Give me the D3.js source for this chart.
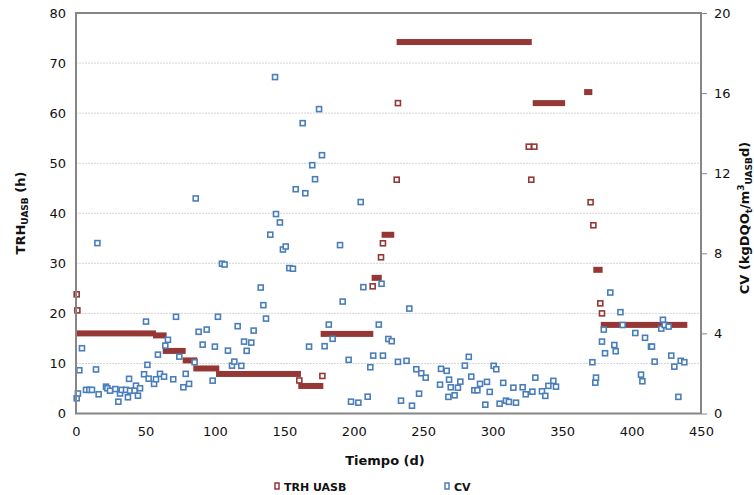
<!DOCTYPE html>
<html>
<head>
<meta charset="utf-8">
<script src="https://cdn.jsdelivr.net/npm/d3@7"></script>
<style>
  body { margin: 0; background: #fff; }
  text { font-family: "DejaVu Sans", Verdana, sans-serif; }
</style>
</head>
<body>
<div id="chart"></div>
<script>
const width = 754;
const height = 495;

// CV (kgDQOt/m3 UASB d) - day / value
const cvDays = [0.5, 1.4, 2.4, 4.3, 7.2, 9.6, 11.5, 14.4, 15.4, 16.3, 21.6, 22.6, 24.5, 28.3, 30.5, 31.7, 32.9, 36, 37.4, 38.2,
  38.9, 42.2, 43.2, 44.6, 46.1, 49, 50.4, 51.4, 52.3, 56.2, 57.6, 59, 60.5, 63.4, 64.3, 66.2, 70, 72, 74.4, 77.3,
  79, 81.4, 85.4, 86.2, 88.3, 91.2, 94.1, 98.4, 100, 102.2, 105.1, 107, 109.4, 112.3, 114, 116.4, 119, 121, 122.9, 126.2,
  127.9, 133, 134.9, 136.8, 139.9, 143.3, 144, 146.8, 149, 151, 153.6, 156.2, 158.2, 163.2, 165.1, 167.8, 170.1, 172.1, 175, 177.1,
  179, 182, 184.8, 190.1, 192, 196.3, 198, 203.3, 205, 206.9, 210, 211.9, 214, 218, 220, 221, 224.9, 227.3, 231.8, 234,
  238, 240, 241.9, 245, 247, 248.6, 251.8, 262.1, 262.8, 266.9, 268.1, 268.6, 269.8, 272.6, 275, 276.7, 280, 282.8, 284.6, 286.8,
  289, 290.9, 294.7, 295.9, 297.9, 300.7, 302.6, 305, 307.6, 309.6, 311.7, 314.9, 316.8, 321.6, 323.8, 328.6, 330.7, 335.5, 337.9, 340.1,
  343.7, 345.6, 371.8, 373.9, 374.4, 378.7, 380, 380.9, 384.7, 387.6, 388.6, 392, 393.6, 402.7, 406.8, 407.8, 409.7, 414, 414.7, 416.6,
  421.4, 422.6, 423.8, 426.7, 428.6, 430.8, 433.7, 435.4, 438];
const cvValues = [0.76, 1.0, 2.16, 3.26, 1.18, 1.18, 1.18, 2.2, 8.51, 0.96, 1.34, 1.26, 1.14, 1.22, 0.59, 1.0, 1.18, 1.18, 0.81, 1.73,
  1.14, 1.14, 1.39, 0.89, 1.26, 1.96, 4.59, 2.43, 1.74, 1.48, 1.71, 2.94, 1.98, 1.84, 3.39, 3.68, 1.71, 4.83, 2.84, 1.31,
  1.98, 1.48, 2.56, 10.74, 4.08, 3.44, 4.19, 1.64, 3.34, 4.83, 7.48, 7.44, 3.14, 2.39, 2.59, 4.36, 2.38, 3.59, 3.13, 3.54,
  4.14, 6.29, 5.41, 4.74, 8.93, 16.8, 9.96, 9.54, 8.19, 8.34, 7.26, 7.23, 11.2, 14.5, 11.0, 3.34, 12.4, 11.7, 15.2, 12.9,
  3.36, 4.44, 3.73, 8.41, 5.59, 2.68, 0.59, 0.54, 10.56, 6.31, 0.84, 2.31, 2.89, 4.44, 6.48, 2.89, 3.72, 3.61, 2.58, 0.64,
  2.63, 5.24, 0.39, 2.21, 0.99, 2.01, 1.79, 1.44, 2.23, 2.13, 0.83, 1.69, 1.31, 0.91, 1.29, 1.59, 2.39, 2.83, 1.84, 1.16,
  1.16, 1.48, 0.44, 1.58, 1.08, 2.38, 2.21, 0.49, 1.53, 0.64, 0.58, 1.29, 0.54, 1.31, 0.96, 1.09, 1.79, 1.11, 0.88, 1.38,
  1.63, 1.34, 2.56, 1.54, 1.79, 3.59, 4.19, 3.01, 6.04, 3.42, 3.11, 5.06, 4.42, 4.02, 1.94, 1.61, 3.78, 3.34, 3.34, 2.59,
  4.24, 4.68, 4.42, 4.34, 2.89, 2.34, 0.83, 2.63, 2.56];

// TRH UASB (h): periods of constant daily value [startDay, endDay, value]
const trhSteps = [
  [0, 55.4, 16.0], [57.6, 63.1, 15.6], [64.6, 76.8, 12.5], [79, 85.2, 10.6], [86.6, 101, 9.0],
  [103, 159.8, 7.9], [162.2, 175.9, 5.5], [178.3, 211.9, 15.9], [215, 218, 27.1], [222.2, 227, 35.7],
  [233, 326, 74.2], [331, 350, 62.0], [368, 369.6, 64.2], [374.6, 377, 28.7], [380, 438, 17.7]
];
// TRH UASB (h): single days
const trhDays = [0.5, 1, 160.8, 177.4, 213.6, 219.6, 221, 230.9, 231.8, 326, 330, 327.8, 370.5, 372.5, 377.5, 378.7];
const trhValues = [23.8, 20.6, 6.6, 7.5, 25.4, 31.2, 34.0, 46.7, 62, 53.3, 53.3, 46.7, 42.2, 37.6, 22.0, 20.0];

const xTicks = [0, 50, 100, 150, 200, 250, 300, 350, 400, 450];
const yLeftTicks = [0, 10, 20, 30, 40, 50, 60, 70, 80];
const yRightTicks = [0, 4, 8, 12, 16, 20];

const red = "#953735";
const blue = "#4a7ebb";

const svg = d3.select("#chart").append("svg")
  .attr("width", width)
  .attr("height", height);

const x = d3.scaleLinear().domain([0, 450]).range([76, 701]);
const yL = d3.scaleLinear().domain([0, 80]).range([413.5, 13]);
const yR = d3.scaleLinear().domain([0, 20]).range([413.5, 13]);

// grid lines
svg.append("g")
  .selectAll("line")
  .data(yLeftTicks.filter(d => d > 0 && d < 80))
  .enter().append("line")
  .attr("x1", x(0)).attr("x2", x(450))
  .attr("y1", d => yL(d)).attr("y2", d => yL(d))
  .attr("stroke", "#d4d4d4")
  .attr("stroke-width", 1)
  .attr("stroke-dasharray", "2,1");

//TRH bars
svg.append("g")
  .selectAll("rect")
  .data(trhSteps)
  .enter().append("rect")
  .attr("x", d => Math.max(x(0), x(d[0]) - 3))
  .attr("y", d => yL(d[2]) - 3)
  .attr("width", d => x(d[1]) + 3 - Math.max(x(0), x(d[0]) - 3))
  .attr("height", 6)
  .attr("fill", red);

// TRH single points
svg.append("g")
  .selectAll("rect")
  .data(trhDays.map((d, i) => [d, trhValues[i]]))
  .enter().append("rect")
  .attr("x", d => x(d[0]) - 2.5)
  .attr("y", d => yL(d[1]) - 2.5)
  .attr("width", 5)
  .attr("height", 5)
  .attr("fill", "#fff")
  .attr("stroke", red)
  .attr("stroke-width", 1.6);

// CV points
svg.append("g")
  .selectAll("rect")
  .data(cvDays.map((d, i) => [d, cvValues[i]]))
  .enter().append("rect")
  .attr("x", d => x(d[0]) - 2.5)
  .attr("y", d => yR(d[1]) - 2.5)
  .attr("width", 5)
  .attr("height", 5)
  .attr("fill", "#fff")
  .attr("stroke", blue)
  .attr("stroke-width", 1.6);

// frame
svg.append("rect")
  .attr("x", x(0)).attr("y", yL(80))
  .attr("width", x(450) - x(0)).attr("height", yL(0) - yL(80))
  .attr("fill", "none")
  .attr("stroke", "#868686")
  .attr("stroke-width", 2);

// axes
const xAxis = svg.append("g")
  .attr("transform", "translate(0," + yL(0) + ")")
  .call(d3.axisBottom(x).tickValues(xTicks).tickSize(0).tickPadding(13));
const yAxisL = svg.append("g")
  .attr("transform", "translate(" + x(0) + ",0)")
  .call(d3.axisLeft(yL).tickValues(yLeftTicks).tickSize(0).tickPadding(10));
const yAxisR = svg.append("g")
  .attr("transform", "translate(" + (x(450) + 1) + ",0)")
  .call(d3.axisRight(yR).tickValues(yRightTicks).tickSize(5).tickPadding(7));

[xAxis, yAxisL, yAxisR].forEach(g => {
  g.select(".domain").remove();
  g.selectAll("line").attr("stroke", "#868686");
  g.selectAll("text")
    .style("font-size", "13px")
    .style("font-family", "'DejaVu Sans', Verdana, sans-serif")
    .attr("fill", "#111");
});

// titles
svg.append("text")
  .attr("x", 385)
  .attr("y", 465)
  .attr("text-anchor", "middle")
  .style("font-size", "13px")
  .style("font-weight", "bold")
  .attr("fill", "#111")
  .text("Tiempo (d)");

const tl = svg.append("text")
  .attr("transform", "translate(25,213) rotate(-90)")
  .attr("text-anchor", "middle")
  .style("font-size", "13px")
  .style("font-weight", "bold")
  .attr("fill", "#111");
tl.append("tspan").text("TRH");
tl.append("tspan").attr("dy", 3).style("font-size", "9px").text("UASB");
tl.append("tspan").attr("dy", -3).text(" (h)");

const tr = svg.append("text")
  .attr("transform", "translate(749,218) rotate(-90)")
  .attr("text-anchor", "middle")
  .style("font-size", "13px")
  .style("font-weight", "bold")
  .attr("fill", "#111");
tr.append("tspan").text("CV (kgDQO");
tr.append("tspan").attr("dy", 3).style("font-size", "9px").text("t");
tr.append("tspan").attr("dy", -3).text("/m");
tr.append("tspan").attr("dy", -5).style("font-size", "9px").text("3");
tr.append("tspan").attr("dy", 8).style("font-size", "9px").text("UASB");
tr.append("tspan").attr("dy", -3).text("d)");

// legend
const legendItems = [
  { label: "TRH UASB", color: red, x: 275 },
  { label: "CV", color: blue, x: 445 }
];
const legend = svg.selectAll(".legend")
  .data(legendItems)
  .enter().append("g")
  .attr("class", "legend")
  .attr("transform", d => "translate(" + d.x + ",483)");
legend.append("rect")
  .attr("x", 0).attr("y", 0)
  .attr("width", 4).attr("height", 6)
  .attr("fill", "#fff")
  .attr("stroke", d => d.color)
  .attr("stroke-width", 1.5);
legend.append("text")
  .attr("x", 9)
  .attr("y", 7.5)
  .style("font-size", "11px")
  .style("font-weight", "bold")
  .attr("fill", "#111")
  .text(d => d.label);
</script>
</body>
</html>
